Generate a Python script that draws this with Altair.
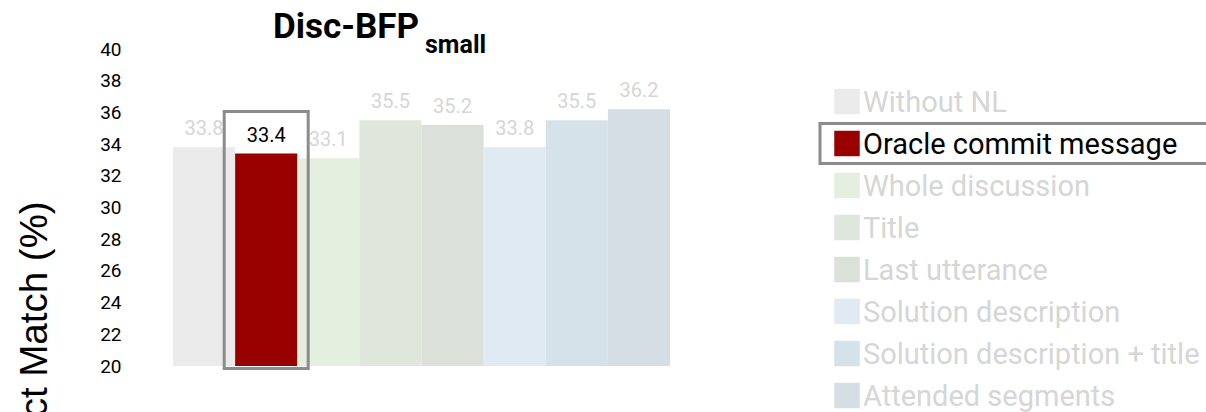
import altair as alt
import pandas as pd

# ---------------- data ----------------
categories = ["Without NL", "Oracle commit message", "Whole discussion", "Title",
              "Last utterance", "Solution description", "Solution description + title",
              "Attended segments"]
values = [33.8, 33.4, 33.1, 35.5, 35.2, 33.8, 35.5, 36.2]
bar_colors = ["#ebebeb", "#990000", "#e5efe0", "#dfe6db", "#dbe0d9", "#dfeaf3", "#d6e2ea", "#d5dde5"]
highlight = "Oracle commit message"
y_ticks = [20, 22, 24, 26, 28, 30, 32, 34, 36, 38, 40]
title_main = ["Disc-BFP"]
title_sub = ["small"]
y_title = "Exact Match (%)"
box_top, box_bottom = 36.05, 19.84

df = pd.DataFrame({"category": categories, "value": values})
df_hl = df[df["category"] == highlight]

W, H = 497, 317
GRAY_TXT = "#d6d6d6"
FRAME = "#8c8c8c"

xscale = alt.Scale(domain=categories, paddingInner=0, paddingOuter=0)
yscale = alt.Scale(domain=[20, 40], nice=False, zero=False)
cscale = alt.Scale(domain=categories, range=bar_colors)
legend_scale = alt.Scale(type="point", domain=categories, range=[52.5, 346.5], padding=0)

X = alt.X("category:N", scale=xscale, sort=categories, axis=None)
txt_color = alt.condition(f"datum.category === '{highlight}'", alt.value("black"), alt.value(GRAY_TXT))

base = alt.Chart(df)

bars = base.mark_bar().encode(
    x=X,
    y=alt.Y("value:Q", scale=yscale,
            axis=alt.Axis(values=y_ticks, title=y_title, domain=False, ticks=False, tickSize=0,
                          grid=False, labelPadding=52, labelFont="Roboto", labelFontSize=19,
                          labelColor="black", titleFont="Liberation Sans", titleFontSize=38.5,
                          titleFontWeight="normal", titleColor="black", titleAngle=270,
                          titleX=-139, titleY=293, titleAlign="center", titleBaseline="middle")),
    y2=alt.Y2(datum=20),
    color=alt.Color("category:N", scale=cscale, legend=None),
)

value_labels = base.mark_text(font="Roboto", fontSize=20, baseline="alphabetic", dy=-12).encode(
    x=X,
    y=alt.Y("value:Q", scale=yscale, axis=None),
    text=alt.Text("value:Q", format=".1f"),
    color=txt_color,
)

bar_frame = alt.Chart(df_hl).mark_bar(filled=False, stroke=FRAME, strokeWidth=3, width=84).encode(
    x=X,
    y=alt.Y(datum=box_top, scale=yscale, axis=None),
    y2=alt.Y2(datum=box_bottom),
)

LY = alt.Y("category:N", sort=categories, scale=legend_scale, axis=None)

legend_sym = base.mark_square(size=650, opacity=1).encode(
    x=alt.value(674),
    y=LY,
    color=alt.Color("category:N", scale=cscale, legend=None),
)

legend_txt = base.mark_text(align="left", baseline="alphabetic", dy=10, font="Roboto", fontSize=29).encode(
    x=alt.value(690),
    y=LY,
    text="category:N",
    color=txt_color,
)

legend_frame = alt.Chart(df_hl).mark_bar(filled=False, stroke=FRAME, strokeWidth=3, height=40,
                                          orient="horizontal").encode(
    x=alt.value(647),
    x2=alt.value(1040),
    y=LY,
)

t_main = alt.Chart(pd.DataFrame({"t": title_main})).mark_text(
    font="Roboto", fontWeight="bold", fontSize=35, align="left", baseline="alphabetic", color="black"
).encode(x=alt.value(100), y=alt.value(-11), text="t:N")

t_sub = alt.Chart(pd.DataFrame({"t": title_sub})).mark_text(
    font="Roboto", fontWeight="bold", fontSize=25, align="left", baseline="alphabetic", color="black"
).encode(x=alt.value(252), y=alt.value(4), text="t:N")

chart = alt.layer(
    bars, value_labels, bar_frame, legend_sym, legend_txt, legend_frame, t_main, t_sub
).resolve_scale(y="independent").properties(
    width=W, height=H,
    padding={"left": 173, "top": 49, "right": 536, "bottom": 46},
    autosize=alt.AutoSizeParams(type="none"),
).configure_view(stroke=None)

chart.save("out.html", embed_options={"renderer": "svg", "actions": False})
